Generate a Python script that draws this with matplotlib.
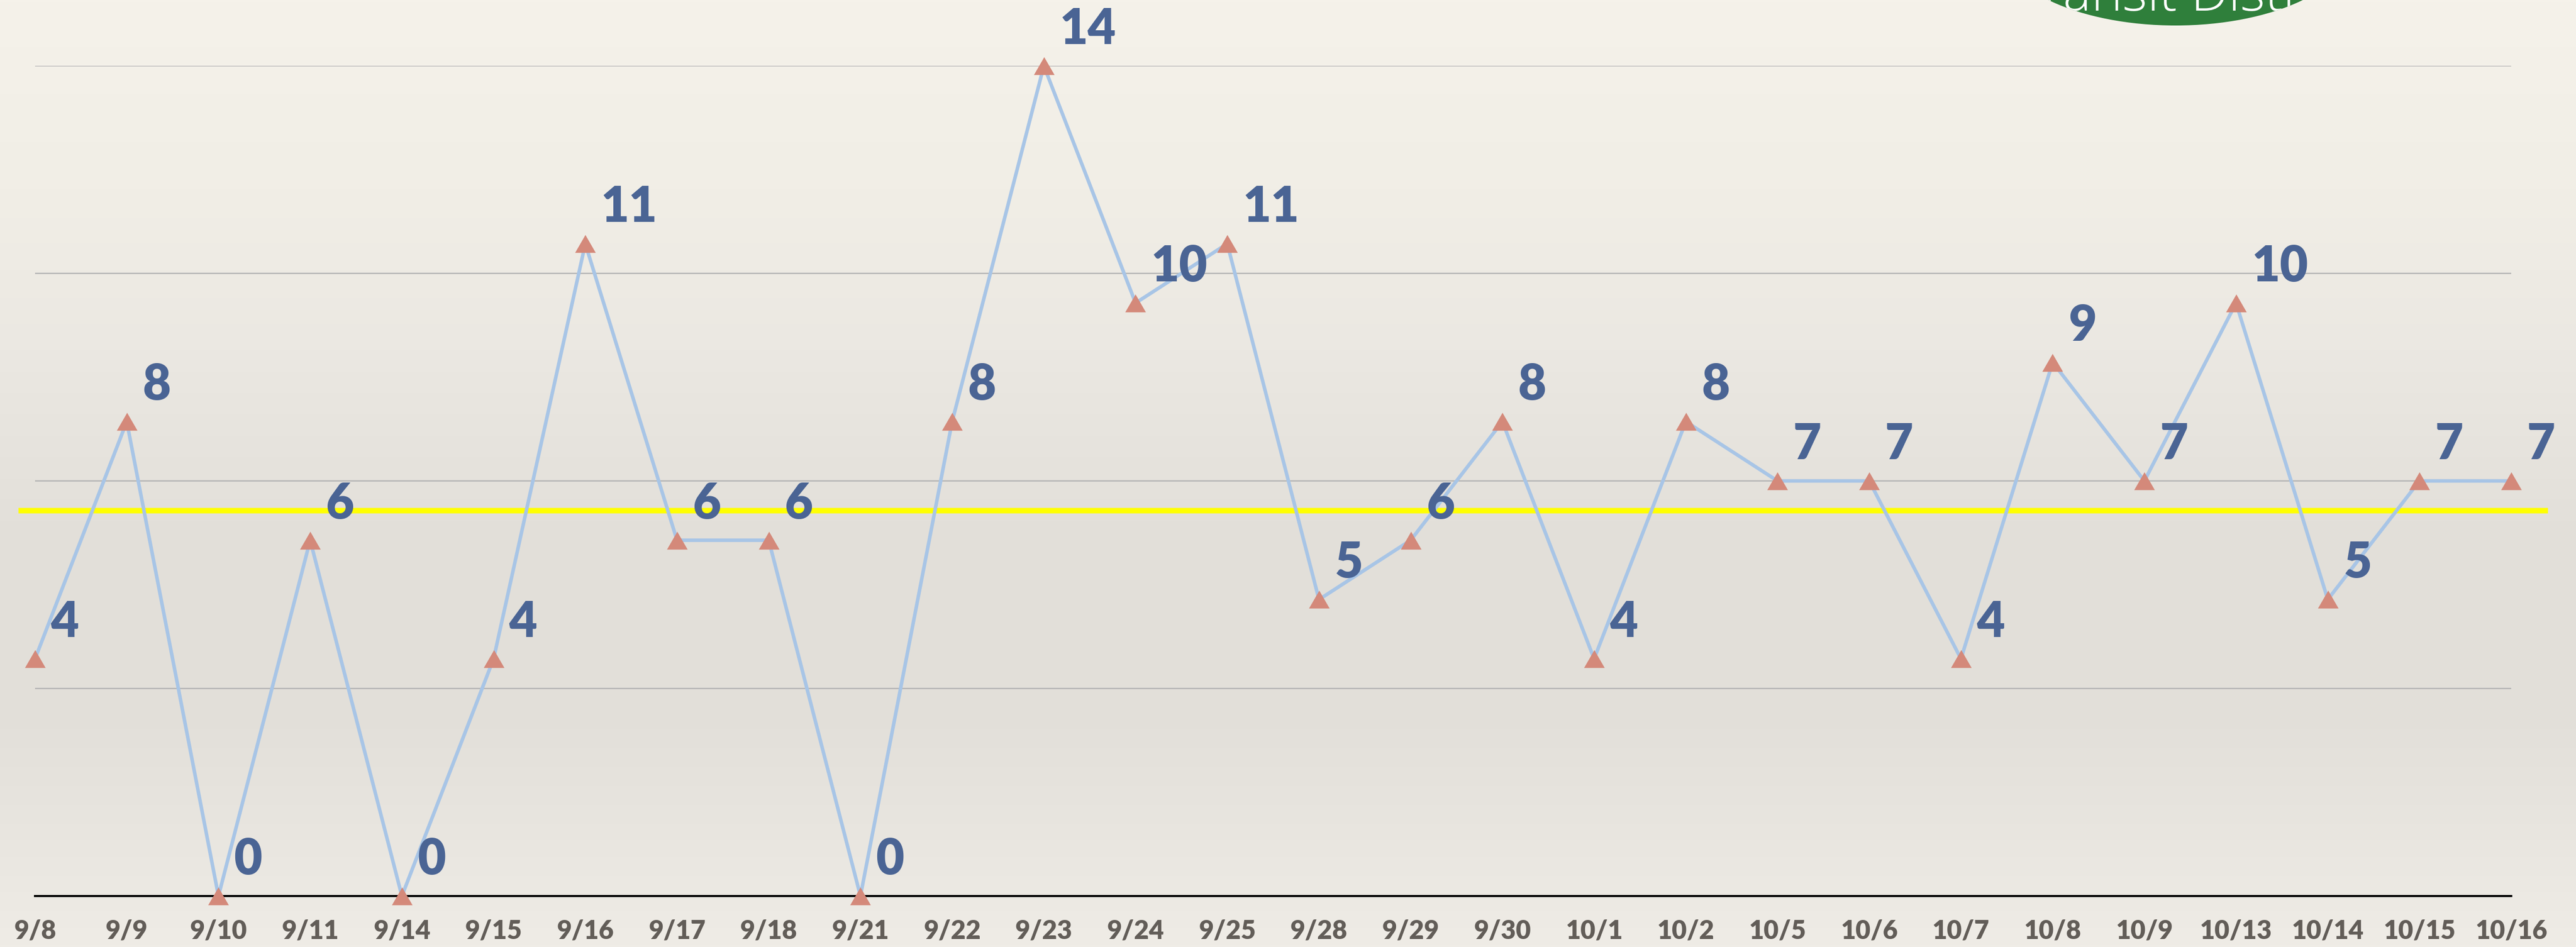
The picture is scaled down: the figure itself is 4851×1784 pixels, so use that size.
import numpy as np
import matplotlib
matplotlib.use("Agg")
import matplotlib.pyplot as plt
from matplotlib.patches import Ellipse, PathPatch
from matplotlib.colors import to_rgb
from matplotlib.textpath import TextPath
from matplotlib.font_manager import FontProperties
from matplotlib.transforms import Affine2D

# ---- data ----
dates = ["9/8", "9/9", "9/10", "9/11", "9/14", "9/15", "9/16", "9/17", "9/18", "9/21",
         "9/22", "9/23", "9/24", "9/25", "9/28", "9/29", "9/30", "10/1", "10/2", "10/5",
         "10/6", "10/7", "10/8", "10/9", "10/13", "10/14", "10/15", "10/16"]
counts = [4, 8, 0, 6, 0, 4, 11, 6, 6, 0,
          8, 14, 10, 11, 5, 6, 8, 4, 8, 7,
          7, 4, 9, 7, 10, 5, 7, 7]
grid_levels = [0, 3.5, 7, 10.5, 14]
logo_text = "Transit District"

W, H = 4851, 1784
DPI = 100
fig = plt.figure(figsize=(W / DPI, H / DPI), dpi=DPI)

# ---- paper background (vertical gradient) ----
stops = [(0.00, "#f5f2ea"), (0.20, "#f1eee6"), (0.37, "#ebe8e2"), (0.55, "#e3e0da"),
         (0.75, "#e2dfd9"), (0.87, "#e8e5df"), (1.00, "#efece6")]
ys = np.linspace(0, 1, 400)
pos = [s[0] for s in stops]
cols = np.array([to_rgb(s[1]) for s in stops])
grad = np.stack([np.interp(ys, pos, cols[:, k]) for k in range(3)], axis=-1)
grad = grad[:, None, :]
bg = fig.add_axes([0, 0, 1, 1], zorder=-10)
bg.imshow(grad, aspect="auto", extent=[0, 1, 0, 1], origin="upper")
bg.set_xlim(0, 1); bg.set_ylim(0, 1)
bg.axis("off")

# ---- logo (green oval, top right, cut off) ----
logo_ax = fig.add_axes([0, 0, 1, 1], zorder=-5)
logo_ax.set_xlim(0, W); logo_ax.set_ylim(0, H)
logo_ax.axis("off")
oval = Ellipse((4097, H + 109), 666, 314, facecolor="#2f7f3b", edgecolor="none")
logo_ax.add_patch(oval)
fp = FontProperties(family="Open Sans", weight="light")
tp = TextPath((0, 0), logo_text, size=100, prop=fp)
ext = tp.get_extents()
cx = (ext.x0 + ext.x1) / 2
tp = Affine2D().translate(4120 - cx, H - 20).transform_path(tp)
txt_patch = PathPatch(tp, facecolor="white", edgecolor="none")
logo_ax.add_patch(txt_patch)
txt_patch.set_clip_path(oval)

# ---- main axes ----
left = 66 / W
right = 4729 / W
bottom = (H - 1688) / H
top = (H - 124) / H
ax = fig.add_axes([left, bottom, right - left, top - bottom])
ax.set_facecolor("none")

x = np.arange(len(dates))
ax.set_xlim(0, len(dates) - 1)
ax.set_ylim(0, 14)

ax.set_yticks(grid_levels)
ax.yaxis.grid(True, color="#b4b4b4", linewidth=1.7)
ax.set_axisbelow(True)
ax.tick_params(axis="y", length=0, labelleft=False)

for s in ["left", "right", "top"]:
    ax.spines[s].set_visible(False)
ax.spines["bottom"].set_color("black")
ax.spines["bottom"].set_linewidth(2.9)
ax.spines["bottom"].set_zorder(2)

font = "Lato"
ax.set_xticks(x)
ax.set_xticklabels(dates, fontsize=35, fontweight="heavy", color="#625d58", family=font)
ax.tick_params(axis="x", length=0, pad=31)

# mean line
mean_val = float(np.mean(counts))
ax.axhline(mean_val, xmin=-0.0056, xmax=1.0137, color="#ffff00", linewidth=7.5,
           zorder=2.5, clip_on=False)

# series
ax.plot(x, counts, color="#a8c5e6", linewidth=4.8, zorder=3, clip_on=False)
tri = [(-1, -0.866), (1, -0.866), (0, 0.866)]
ax.plot(x, counts, linestyle="none", marker=tri, markersize=28,
        markerfacecolor="#d4897a", markeredgecolor="none", zorder=4, clip_on=False)

for xi, v in zip(x, counts):
    ax.annotate(str(v), (xi, v), xytext=(21, 29.5), textcoords="offset points",
                ha="left", va="baseline", fontsize=66, fontweight="heavy",
                color="#4a6494", family=font, zorder=5, annotation_clip=False)

fig.savefig("out.png", dpi=DPI)
